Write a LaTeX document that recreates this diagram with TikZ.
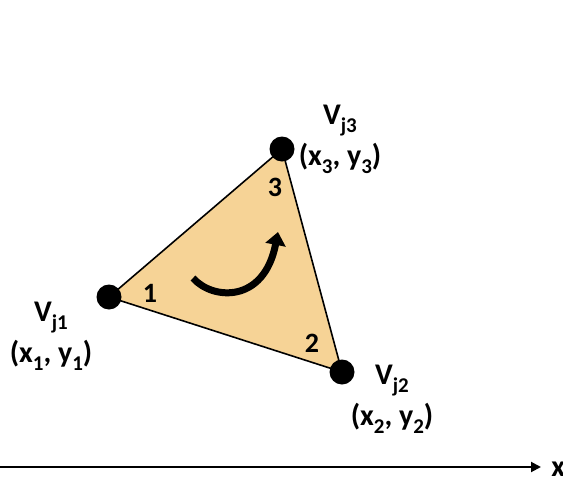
\documentclass[tikz,border=0pt]{standalone}
\usepackage{fontspec}
\setmainfont{Carlito}
\usetikzlibrary{arrows.meta}
\definecolor{facetan}{RGB}{246,211,150}
\newcommand{\vsub}[1]{\raisebox{-0.55ex}{\fontsize{10.5}{10.5}\selectfont #1}}
\tikzset{
  vertex/.style={circle, fill=black, inner sep=0pt, minimum size=12.5pt},
  vlabel/.style={font=\fontsize{15}{20.5}\selectfont\bfseries, align=center,
    inner sep=0pt, anchor=north},
  cornernum/.style={font=\fontsize{14}{16}\selectfont\bfseries, inner sep=0pt},
  turn/.style={line width=3.5pt, -{Triangle[length=6.5pt,width=10pt]}},
  axis/.style={line width=1pt, -{Triangle[length=5pt,width=5pt]}}
}
\begin{document}
\begin{tikzpicture}[x=0.5pt,y=-0.5pt]
\useasboundingbox (0,0) rectangle (563,477);

% corners of the element
\coordinate (p1) at (109,297);
\coordinate (p2) at (342,372);
\coordinate (p3) at (282,149);

% face
\draw[fill=facetan, line width=0.8pt, line join=round]
  (p1) -- (p2) -- (p3) -- cycle;

% vertices
\node[vertex] (v1) at (p1) {};
\node[vertex] (v2) at (p2) {};
\node[vertex] (v3) at (p3) {};

% local numbering
\node[cornernum] (n1) at (150,293) {1};
\node[cornernum] (n2) at (312,343) {2};
\node[cornernum] (n3) at (275,187) {3};

% vertex labels
\node[vlabel] (l1) at (51,302) {V\vsub{j1}\\(x\vsub{1}, y\vsub{1})};
\node[vlabel] (l2) at (392,365) {V\vsub{j2}\\(x\vsub{2}, y\vsub{2})};
\node[vlabel] (l3) at (340,105) {V\vsub{j3}\\(x\vsub{3}, y\vsub{3})};

% orientation
\coordinate (tA) at (193,278);
\coordinate (tB) at (278,232);
\draw[turn] (tA) .. controls (212,300) and (264,304) .. (tB);

% x axis
\coordinate (x0) at (0,467);
\node[font=\fontsize{15}{17}\selectfont\bfseries, anchor=west, inner sep=0pt]
  (xlab) at (551,469) {x};
\draw[axis, shorten >=5pt] (x0) -- (xlab.west |- x0);

\end{tikzpicture}
\end{document}
